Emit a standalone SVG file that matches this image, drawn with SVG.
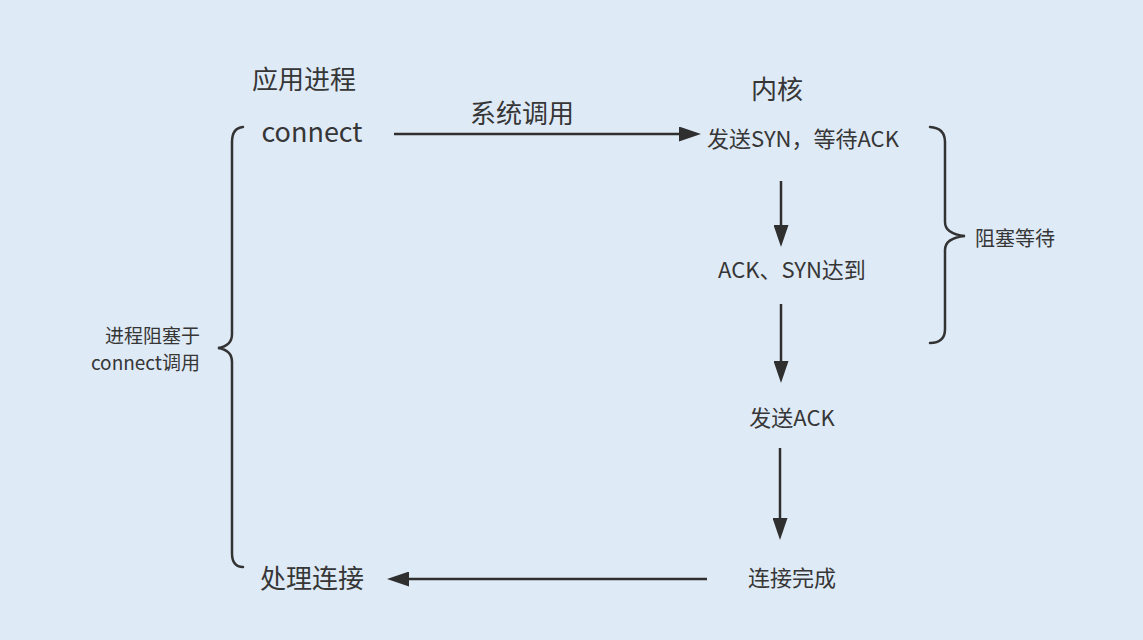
<svg xmlns="http://www.w3.org/2000/svg" width="1143" height="640" viewBox="0 0 1143 640">
<style>
text{font-family:"Noto Sans CJK SC","Noto Sans",sans-serif;fill:#363636;text-anchor:middle}
.big{font-size:26px}
.lat{font-size:27px}
.mid{font-size:22px}
.sm{font-size:20px}
.lab{font-size:19px}
.ln{stroke:#2f2f2f;stroke-width:2.5;fill:none}
.br{stroke:#333;stroke-width:2.5;fill:none;stroke-linecap:round}
</style>
<defs>
<marker id="ah" markerUnits="userSpaceOnUse" viewBox="0 0 22 15" markerWidth="22" markerHeight="15" refX="10" refY="7.5" orient="auto">
<path d="M0,0 L22,7.5 L0,15 Z" fill="#2f2f2f"/>
</marker>
</defs>
<rect width="1143" height="640" fill="#dfeaf7"/>
<g id="connectors">
<line class="ln" x1="394" y1="134" x2="689" y2="134" marker-end="url(#ah)"/>
<line class="ln" x1="781" y1="181" x2="781" y2="235" marker-end="url(#ah)"/>
<line class="ln" x1="781" y1="304" x2="781" y2="371" marker-end="url(#ah)"/>
<line class="ln" x1="780" y1="448" x2="780" y2="528" marker-end="url(#ah)"/>
<line class="ln" x1="707" y1="579" x2="399" y2="579" marker-end="url(#ah)"/>
<text class="big" x="522" y="123">系统调用</text>
</g>
<g id="app-title"><text class="big" x="304" y="89">应用进程</text></g>
<g id="kernel-title"><text class="big" x="777" y="99">内核</text></g>
<g id="connect"><text class="lat" x="312" y="142">connect</text></g>
<g id="send-syn"><text class="mid" x="803" y="147">发送SYN，等待ACK</text></g>
<g id="ack-syn"><text class="mid" x="792" y="278">ACK、SYN达到</text></g>
<g id="send-ack"><text class="mid" x="792" y="426">发送ACK</text></g>
<g id="done"><text class="mid" x="792" y="586">连接完成</text></g>
<g id="handle"><text class="big" x="312" y="588">处理连接</text></g>
<g id="left-brace">
<path class="br" d="M243,127 Q232,128 232,142 L232,334 Q232,346 218,348 Q232,350 232,362 L232,553 Q232,567 243,567"/>
<text class="lab" x="200" y="343" style="text-anchor:end">进程阻塞于</text>
<text class="lab" x="200" y="370" style="text-anchor:end">connect调用</text>
</g>
<g id="right-brace">
<path class="br" d="M930,127 Q945,128 945,142 L945,222 Q945,234 965,236 Q945,238 945,250 L945,329 Q945,343 930,343"/>
<text class="sm" x="975" y="246" style="text-anchor:start">阻塞等待</text>
</g>
</svg>
